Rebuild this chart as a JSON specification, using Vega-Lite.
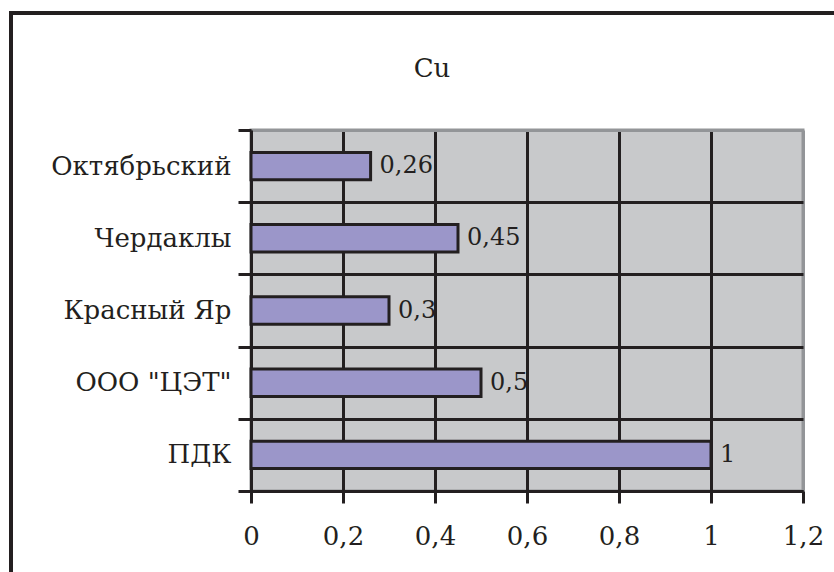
{
  "$schema": "https://vega.github.io/schema/vega-lite/v6.json",
  "width": 552,
  "height": 361,
  "autosize": {"type": "none"},
  "padding": {"left": 251, "top": 130, "right": 31, "bottom": 81},
  "background": "white",
  "title": {
    "text": "Cu",
    "anchor": "middle",
    "frame": "group",
    "dx": -95,
    "offset": -92,
    "baseline": "alphabetic",
    "font": "DejaVu Serif",
    "fontSize": 26,
    "fontWeight": "normal",
    "color": "#231f20"
  },
  "data": {
    "values": [
      {"site": "Октябрьский", "ratio": 0.26},
      {"site": "Чердаклы", "ratio": 0.45},
      {"site": "Красный Яр", "ratio": 0.3},
      {"site": "ООО \"ЦЭТ\"", "ratio": 0.5},
      {"site": "ПДК", "ratio": 1}
    ]
  },
  "encoding": {
    "y": {
      "field": "site",
      "type": "nominal",
      "sort": ["Октябрьский", "Чердаклы", "Красный Яр", "ООО \"ЦЭТ\"", "ПДК"],
      "title": null,
      "scale": {"paddingInner": 0, "paddingOuter": 0},
      "axis": {
        "tickBand": "extent",
        "domainColor": "#231f20",
        "domainWidth": 3,
        "tickColor": "#231f20",
        "tickWidth": 3,
        "tickSize": 13,
        "grid": true,
        "gridColor": {"condition": {"test": "datum.extra", "value": "#939598"}, "value": "#231f20"},
        "gridWidth": 3,
        "labelFont": "DejaVu Serif",
        "labelFontSize": 26,
        "labelColor": "#231f20",
        "labelPadding": 7,
        "labelLimit": 320
      }
    },
    "x": {
      "field": "ratio",
      "type": "quantitative",
      "title": null,
      "scale": {"domain": [0, 1.2], "nice": false, "zero": true},
      "axis": {
        "values": [0, 0.2, 0.4, 0.6, 0.8, 1, 1.2],
        "labelExpr": "replace(format(datum.value, ''), '.', ',')",
        "domainColor": "#231f20",
        "domainWidth": 3,
        "tickColor": "#231f20",
        "tickWidth": 3,
        "tickSize": 12,
        "grid": true,
        "gridColor": {"condition": {"test": "datum.value > 1.1", "value": "#939598"}, "value": "#231f20"},
        "gridWidth": 3,
        "labelFont": "DejaVu Serif",
        "labelFontSize": 26,
        "labelColor": "#231f20",
        "labelPadding": 20,
        "labelFlush": false,
        "labelOverlap": false
      }
    }
  },
  "layer": [
    {
      "mark": {"type": "bar", "stroke": "#231f20", "strokeWidth": 3, "height": {"band": 0.38}},
      "encoding": {
        "color": {
          "datum": "Cu",
          "scale": {"range": ["#9b96c9"]},
          "legend": {
            "orient": "none",
            "legendX": -240,
            "legendY": -117,
            "padding": 460,
            "title": null,
            "labelExpr": "''",
            "symbolSize": 0,
            "symbolOpacity": 0,
            "symbolStrokeWidth": 0,
            "strokeColor": "#231f20"
          }
        }
      }
    },
    {
      "transform": [{"calculate": "replace(format(datum.ratio, ''), '.', ',')", "as": "label"}],
      "mark": {
        "type": "text",
        "align": "left",
        "baseline": "middle",
        "dx": 9,
        "font": "DejaVu Serif",
        "fontSize": 24,
        "fill": "#231f20"
      },
      "encoding": {"text": {"field": "label"}}
    }
  ],
  "config": {
    "view": {"fill": "#c8c9cb", "stroke": "#939598", "strokeWidth": 3},
    "legend": {"strokeWidth": 4}
  }
}
